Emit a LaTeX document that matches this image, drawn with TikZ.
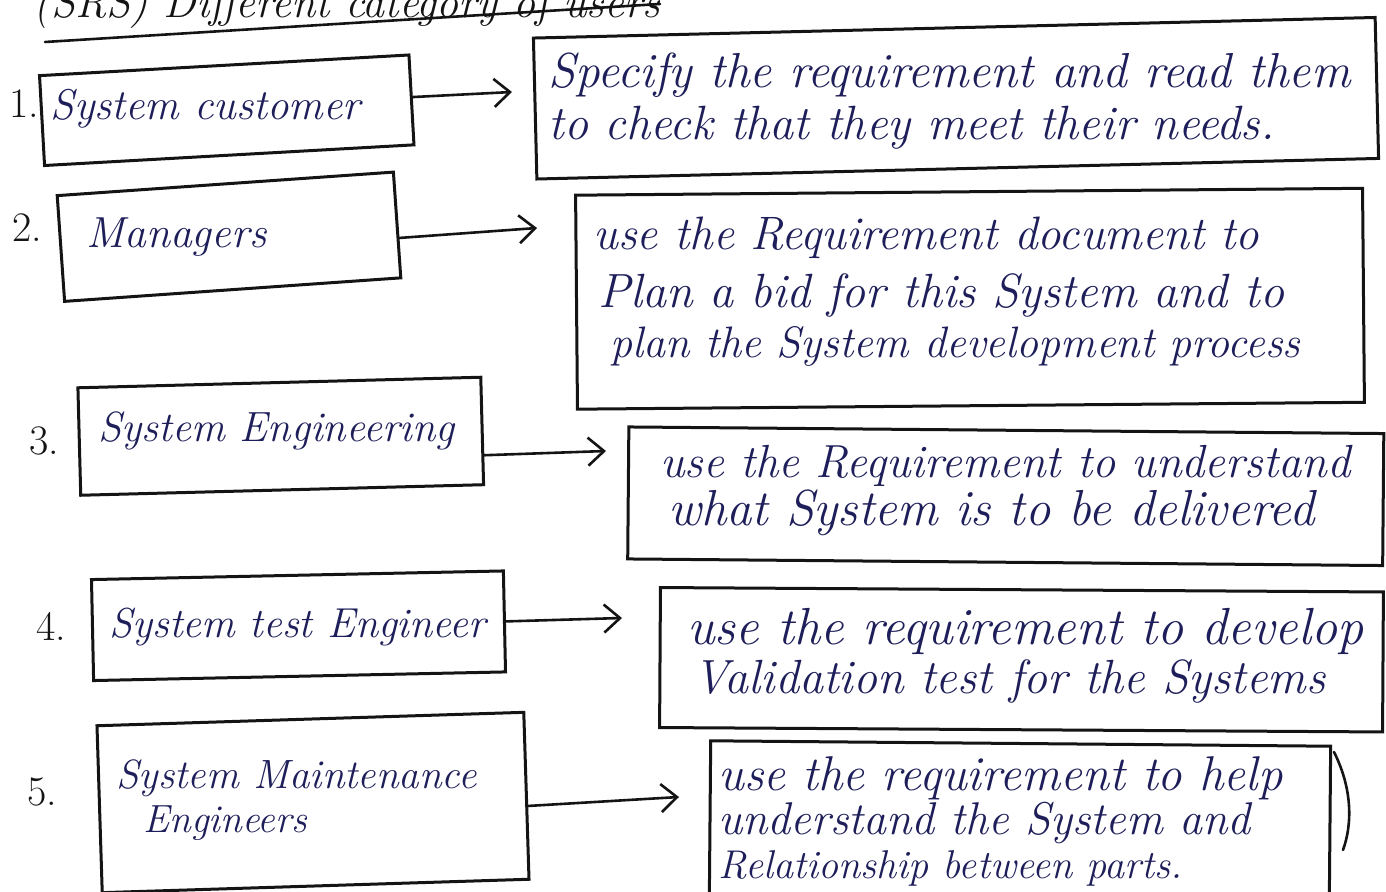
\documentclass[tikz,border=0pt]{standalone}
\usepackage{graphicx}
\usetikzlibrary{arrows.meta,calc}
\definecolor{ink}{HTML}{1E1E5A}
\definecolor{pen}{HTML}{141414}
% set a line of text to a given width
\newcommand\fitto[2]{\resizebox{#1}{!}{#2}}
\tikzset{
  box/.style={draw=pen, line width=1.5pt, rectangle, inner sep=0pt},
  txt/.style={text=ink, font=\fontsize{22}{26}\selectfont\itshape, inner sep=0pt, anchor=base west},
  num/.style={text=pen, font=\fontsize{21}{24}\selectfont, inner sep=0pt, anchor=base west},
  heading/.style={text=pen, font=\fontsize{22}{26}\selectfont\itshape, inner sep=0pt, anchor=base west},
  link/.style={draw=pen, line width=1.3pt, line cap=round,
    -{Straight Barb[length=8pt,width=14pt,line width=1.3pt]}},
  rule/.style={draw=pen, line width=1.3pt, line cap=round},
}
\begin{document}
\begin{tikzpicture}[x=0.5pt, y=-0.5pt]
\useasboundingbox (0,0) rectangle (1386,892);
\clip (0,0) rectangle (1386,892);

% heading, running off the top edge of the sheet
\node[heading] (ttl) at (33,18) {(SRS) Different category of users};
\coordinate (u0) at (45,42);
\coordinate (u1) at (660,4);
\draw[rule] (u0) -- (u1);

% left column: the user categories
\node[box, rotate=3.2, minimum width=185pt,   minimum height=45pt]    (L1) at (226.75,110.25) {};
\node[box, rotate=4,   minimum width=168.5pt, minimum height=53pt]    (L2) at (229,236.75) {};
\node[box, rotate=1.5, minimum width=201.5pt, minimum height=53.75pt] (L3) at (280.75,436.25) {};
\node[box, rotate=1.2, minimum width=206pt,   minimum height=50.5pt]  (L4) at (298.5,625.75) {};
\node[box, rotate=1.8, minimum width=213.5pt, minimum height=83.5pt]  (L5) at (313,802.5) {};

\node[num] (n1) at (9,118)  {1.};
\node[num] (n2) at (12,242) {2.};
\node[num] (n3) at (29,455) {3.};
\node[num] (n4) at (36,640) {4.};
\node[num] (n5) at (27,805) {5.};

\node[txt] (l1)  at (50,120)  {\fitto{155pt}{System customer}};
\node[txt] (l2)  at (86,248)  {\fitto{90pt}{Managers}};
\node[txt] (l3)  at (98,442)  {\fitto{178pt}{System Engineering}};
\node[txt] (l4)  at (109,637) {\fitto{188pt}{System test Engineer}};
\node[txt] (l5a) at (116,788) {\fitto{180pt}{System Maintenance}};
\node[txt] (l5b) at (143,832) {\fitto{82pt}{Engineers}};

% right column: how each category uses the requirements
\node[box, rotate=1.4,   minimum width=421pt,   minimum height=70.5pt] (R1) at (956,98.25) {};
\node[box, rotate=0.5,   minimum width=393.5pt, minimum height=107pt]  (R2) at (970,298.75) {};
\node[box, rotate=-0.5,  minimum width=377.5pt, minimum height=66pt]   (R3) at (1005.75,496.25) {};
\node[box, rotate=-0.35, minimum width=361.5pt, minimum height=70pt]   (R4) at (1021.5,659.75) {};
\node[box, rotate=-0.5,  minimum width=310pt,   minimum height=77.5pt] (R5) at (1020,821) {};

\node[txt] (r1a) at (548,88)  {\fitto{401pt}{Specify the requirement and read them}};
\node[txt] (r1b) at (548,140) {\fitto{363pt}{to check that they meet their needs.}};
\node[txt] (r2a) at (593,250) {\fitto{333pt}{use the Requirement document to}};
\node[txt] (r2b) at (598,308) {\fitto{343pt}{Plan a bid for this System and to}};
\node[txt] (r2c) at (610,358) {\fitto{345pt}{plan the System development process}};
\node[txt] (r3a) at (660,478) {\fitto{345pt}{use the Requirement to understand}};
\node[txt] (r3b) at (668,525) {\fitto{323pt}{what System is to be delivered}};
\node[txt] (r4a) at (687,645) {\fitto{338pt}{use the requirement to develop}};
\node[txt] (r4b) at (693,693) {\fitto{316pt}{Validation test for the Systems}};
\node[txt] (r5a) at (718,790) {\fitto{282pt}{use the requirement to help}};
\node[txt] (r5b) at (718,834) {\fitto{266pt}{understand the System and}};
\node[txt] (r5c) at (718,878) {\fitto{232pt}{Relationship between parts.}};

% arrow tips, each short of its target box
\coordinate (t1) at (512,92);
\coordinate (t2) at (537,228);
\coordinate (t3) at (606,451);
\coordinate (t4) at (622,618);
\coordinate (t5) at (679,797);

\draw[link] ($(L1.north east)!0.47!(L1.south east)$) -- (t1);
\draw[link] ($(L2.north east)!0.62!(L2.south east)$) -- (t2);
\draw[link] ($(L3.north east)!0.72!(L3.south east)$) -- (t3);
\draw[link] ($(L4.north east)!0.50!(L4.south east)$) -- (t4);
\draw[link] ($(L5.north east)!0.56!(L5.south east)$) -- (t5);

% loose pen stroke beside the last box
\draw[rule] (1334,752) .. controls (1353,790) and (1352,825) .. (1343,850);
\end{tikzpicture}
\end{document}
